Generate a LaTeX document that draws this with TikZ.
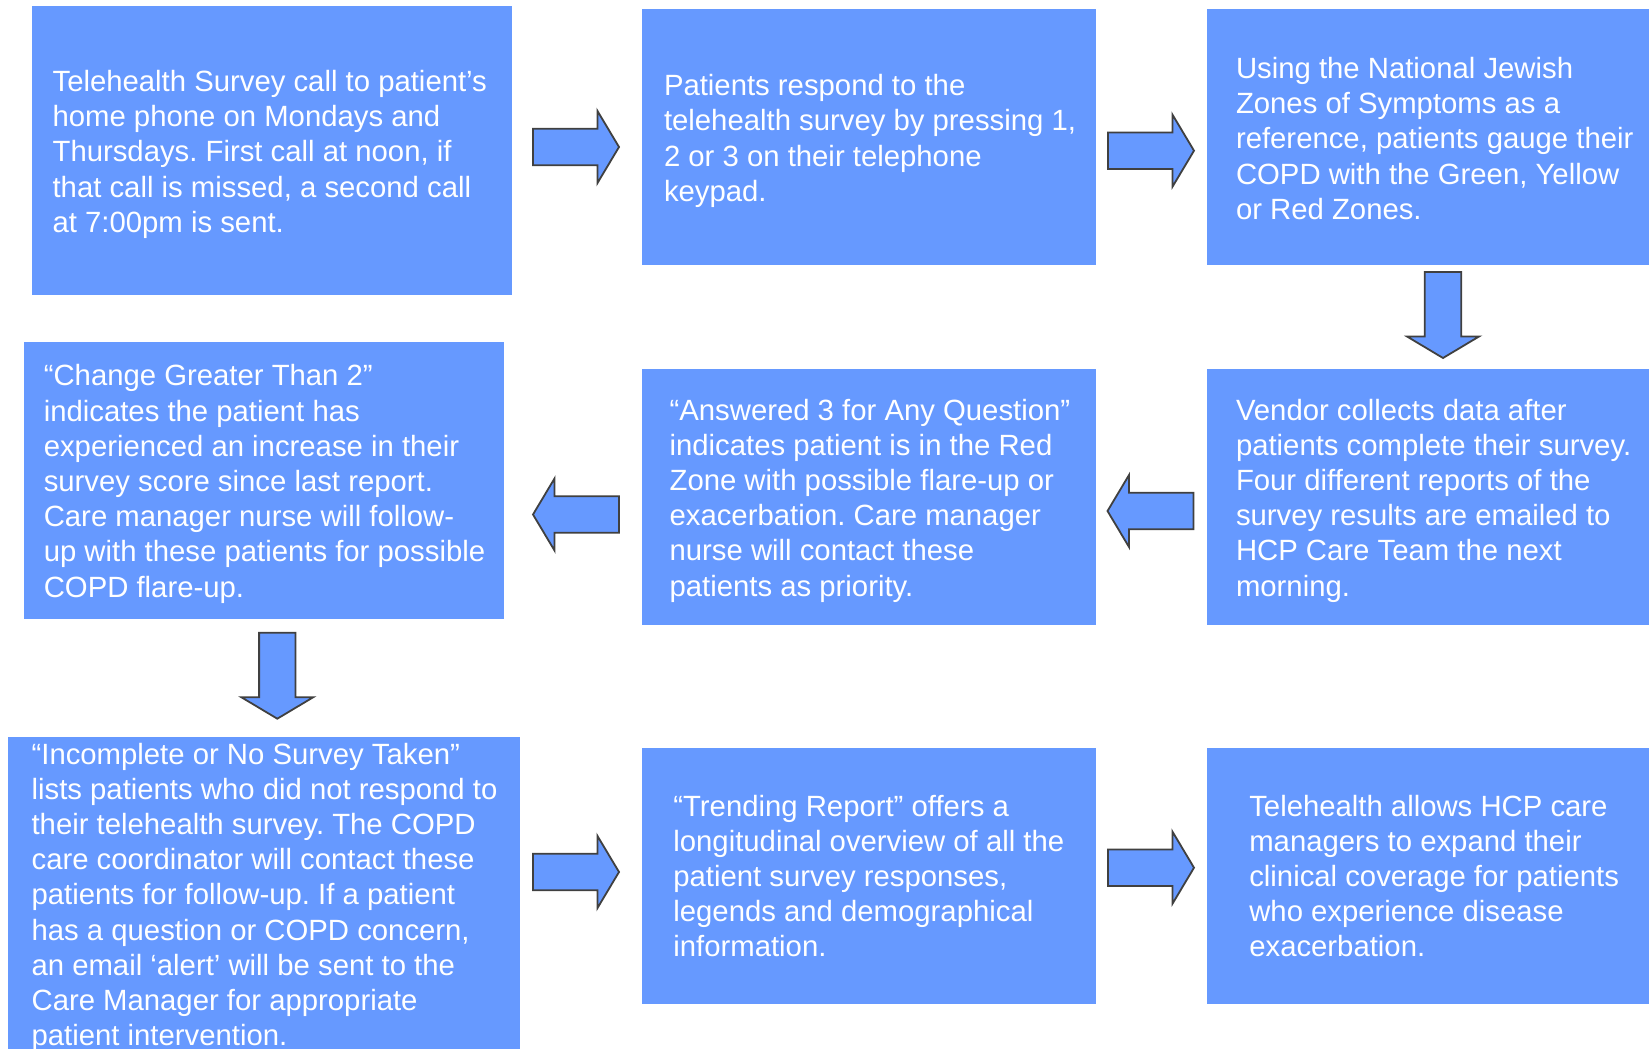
\documentclass[tikz,border=0pt]{standalone}
\usepackage{fontspec}
\setmainfont{Liberation Sans}
\definecolor{boxblue}{RGB}{102,153,255}
\definecolor{edgegray}{RGB}{64,64,64}
\tikzset{
  box/.style={rectangle, fill=boxblue, draw=none, inner sep=0pt, outer sep=0pt, anchor=north west},
  txt/.style={text=white, inner sep=0pt, outer sep=0pt, anchor=base west, font=\fontsize{29.3}{35.2}\selectfont\frenchspacing},
  arrowshape/.style={fill=boxblue, draw=edgegray, line width=1.8pt, line join=miter},
  blockarrow/.pic={\draw[arrowshape] (0,-18.2) -- (64.5,-18.2) -- (64.5,-36) -- (86,0) -- (64.5,36) -- (64.5,18.2) -- (0,18.2) -- cycle;}
}
\newcommand{\lines}[1]{\begin{tabular}[t]{@{}l@{}}#1\end{tabular}}
\begin{document}
\frenchspacing
\begin{tikzpicture}[x=1pt,y=-1pt]
\useasboundingbox (0,0) rectangle (1649,1049);
\clip (0,0) rectangle (1649,1049);
\fill[white] (0,0) rectangle (1649,1049);
% boxes
\node[box, minimum width=480pt, minimum height=288.3pt] (A) at (32,6.3) {};
\node[box, minimum width=453.7pt, minimum height=255.5pt] (B) at (642.3,9.3) {};
\node[box, minimum width=442pt, minimum height=255.5pt] (C) at (1207,9.3) {};
\node[box, minimum width=480pt, minimum height=277pt] (F) at (24,342) {};
\node[box, minimum width=453.7pt, minimum height=255.7pt] (E) at (642.3,369) {};
\node[box, minimum width=442pt, minimum height=255.7pt] (D) at (1207,369) {};
\node[box, minimum width=512pt, minimum height=320pt] (G) at (8,737) {};
\node[box, minimum width=453.7pt, minimum height=255.7pt] (H) at (642.3,748) {};
\node[box, minimum width=442pt, minimum height=255.7pt] (I) at (1207,748) {};
% texts
\node[txt] (At) at (52.6,91.5) {\lines{Telehealth Survey call to patient’s\\home phone on Mondays and\\Thursdays. First call at noon, if\\that call is missed, a second call\\at 7:00pm is sent.}};
\node[txt] (Bt) at (664,95.8) {\lines{Patients respond to the\\telehealth survey by pressing 1,\\2 or 3 on their telephone\\keypad.}};
\node[txt] (Ct) at (1236,78.6) {\lines{Using the National Jewish\\Zones of Symptoms as a\\reference, patients gauge their\\COPD with the Green, Yellow\\or Red Zones.}};
\node[txt] (Ft) at (43.8,385.8) {\lines{“Change Greater Than 2”\\indicates the patient has\\experienced an increase in their\\survey score since last report.\\Care manager nurse will follow-\\up with these patients for possible\\COPD flare-up.}};
\node[txt] (Et) at (669.6,420) {\lines{“Answered 3 for Any Question”\\indicates patient is in the Red\\Zone with possible flare-up or\\exacerbation. Care manager\\nurse will contact these\\patients as priority.}};
\node[txt] (Dt) at (1236,420) {\lines{Vendor collects data after\\patients complete their survey.\\Four different reports of the\\survey results are emailed to\\HCP Care Team the next\\morning.}};
\node[txt] (Gt) at (31.6,764) {\lines{“Incomplete or No Survey Taken”\\lists patients who did not respond to\\their telehealth survey. The COPD\\care coordinator will contact these\\patients for follow-up. If a patient\\has a question or COPD concern,\\an email ‘alert’ will be sent to the\\Care Manager for appropriate\\patient intervention.}};
\node[txt] (Ht) at (673.4,816) {\lines{“Trending Report” offers a\\longitudinal overview of all the\\patient survey responses,\\legends and demographical\\information.}};
\node[txt] (It) at (1249.3,816) {\lines{Telehealth allows HCP care\\managers to expand their\\clinical coverage for patients\\who experience disease\\exacerbation.}};
% block arrows
\coordinate (a1) at (533,147);
\coordinate (a2) at (1108,150.7);
\coordinate (a3) at (1443,272);
\coordinate (a4) at (1193.5,511);
\coordinate (a5) at (619,514.5);
\coordinate (a6) at (277.3,632.7);
\coordinate (a7) at (533,872);
\coordinate (a8) at (1108,867.7);
\pic at (a1) {blockarrow};
\pic at (a2) {blockarrow};
\pic[rotate=-90] at (a3) {blockarrow};
\pic[rotate=180] at (a4) {blockarrow};
\pic[rotate=180] at (a5) {blockarrow};
\pic[rotate=-90] at (a6) {blockarrow};
\pic at (a7) {blockarrow};
\pic at (a8) {blockarrow};
\end{tikzpicture}
\end{document}
